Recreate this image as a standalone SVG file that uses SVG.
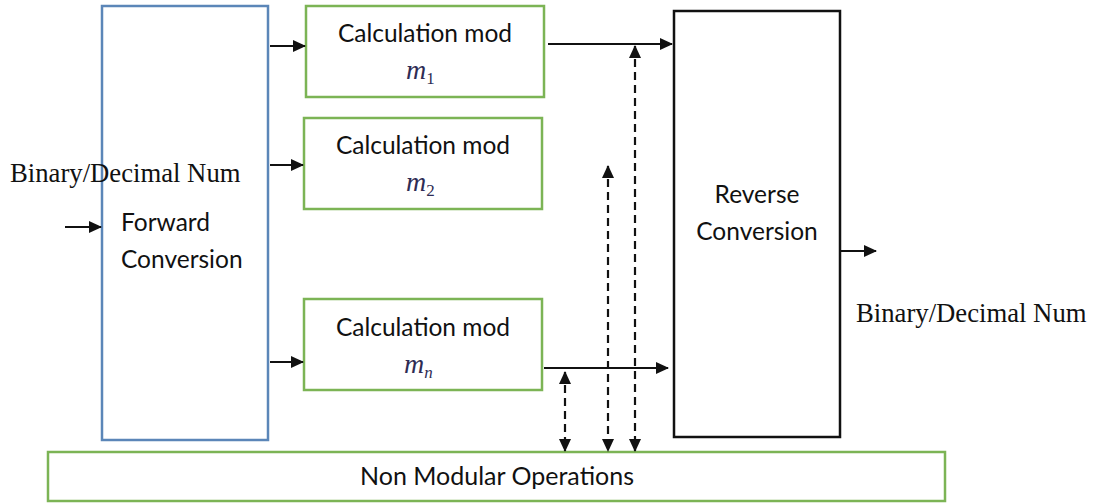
<svg xmlns="http://www.w3.org/2000/svg" width="1093" height="504" viewBox="0 0 1093 504">
<style>
.bg{fill:#fff}
.blue{fill:#fff;stroke:#5b86b8;stroke-width:2.5}
.green{fill:#fff;stroke:#7cb455;stroke-width:2.5}
.black{fill:#fff;stroke:#111;stroke-width:2.5}
.lbl{font-family:Lato,"Open Sans",sans-serif;font-size:24.5px;fill:#111}
.tnr{font-family:"Liberation Serif",serif;font-size:26.7px;fill:#111}
.math{font-family:"Liberation Serif",serif;font-style:italic;font-size:28px;fill:#2e2c55}
.sub{font-size:17px}
.up{font-style:normal}
.solid{fill:none;stroke:#111;stroke-width:2;marker-end:url(#ah)}
.dash{fill:none;stroke:#111;stroke-width:2.2;stroke-dasharray:8 5;marker-start:url(#ah);marker-end:url(#ah)}
</style>
<defs>
<marker id="ah" markerUnits="userSpaceOnUse" markerWidth="13" markerHeight="12" refX="12" refY="6" orient="auto-start-reverse">
<path d="M0,0 L13,6 L0,12 z" fill="#111"/>
</marker>
</defs>
<rect class="bg" x="0" y="0" width="1093" height="504"/>
<g id="forward">
<rect class="blue" x="102" y="6" width="166" height="434"/>
<text class="lbl" x="121" y="231">Forward</text>
<text class="lbl" x="121" y="268">Conversion</text>
</g>
<g id="calc1">
<rect class="green" x="306" y="6" width="238" height="91"/>
<text class="lbl" x="425" y="42" text-anchor="middle">Calculation mod</text>
<text class="math" x="406" y="79">m<tspan class="sub up" dy="5">1</tspan></text>
</g>
<g id="calc2">
<rect class="green" x="304" y="118" width="238" height="91"/>
<text class="lbl" x="423" y="154" text-anchor="middle">Calculation mod</text>
<text class="math" x="406" y="191">m<tspan class="sub up" dy="5">2</tspan></text>
</g>
<g id="calc3">
<rect class="green" x="304" y="299" width="238" height="91"/>
<text class="lbl" x="423" y="336" text-anchor="middle">Calculation mod</text>
<text class="math" x="404" y="373">m<tspan class="sub" dy="5">n</tspan></text>
</g>
<g id="reverse">
<rect class="black" x="674" y="11" width="166" height="426"/>
<text class="lbl" x="757" y="203" text-anchor="middle">Reverse</text>
<text class="lbl" x="757" y="240" text-anchor="middle">Conversion</text>
</g>
<g id="nonmodular">
<rect class="green" x="48" y="452" width="897" height="49"/>
<text class="lbl" x="497" y="485" text-anchor="middle" textLength="274" lengthAdjust="spacingAndGlyphs">Non Modular Operations</text>
</g>
<g id="labels">
<text class="tnr" x="10" y="182">Binary/Decimal Num</text>
<text class="tnr" x="856" y="322">Binary/Decimal Num</text>
</g>
<g id="connectors">
<path class="solid" d="M65,227 H101"/>
<path class="solid" d="M270,46 H305"/>
<path class="solid" d="M270,165 H303"/>
<path class="solid" d="M270,362 H303"/>
<path class="solid" d="M548,44 H672"/>
<path class="solid" d="M544,368 H668"/>
<path class="solid" d="M841,251 H876"/>
<path class="dash" d="M635,46 V451"/>
<path class="dash" d="M608,166 V451"/>
<path class="dash" d="M565,372 V451"/>
</g>
</svg>
